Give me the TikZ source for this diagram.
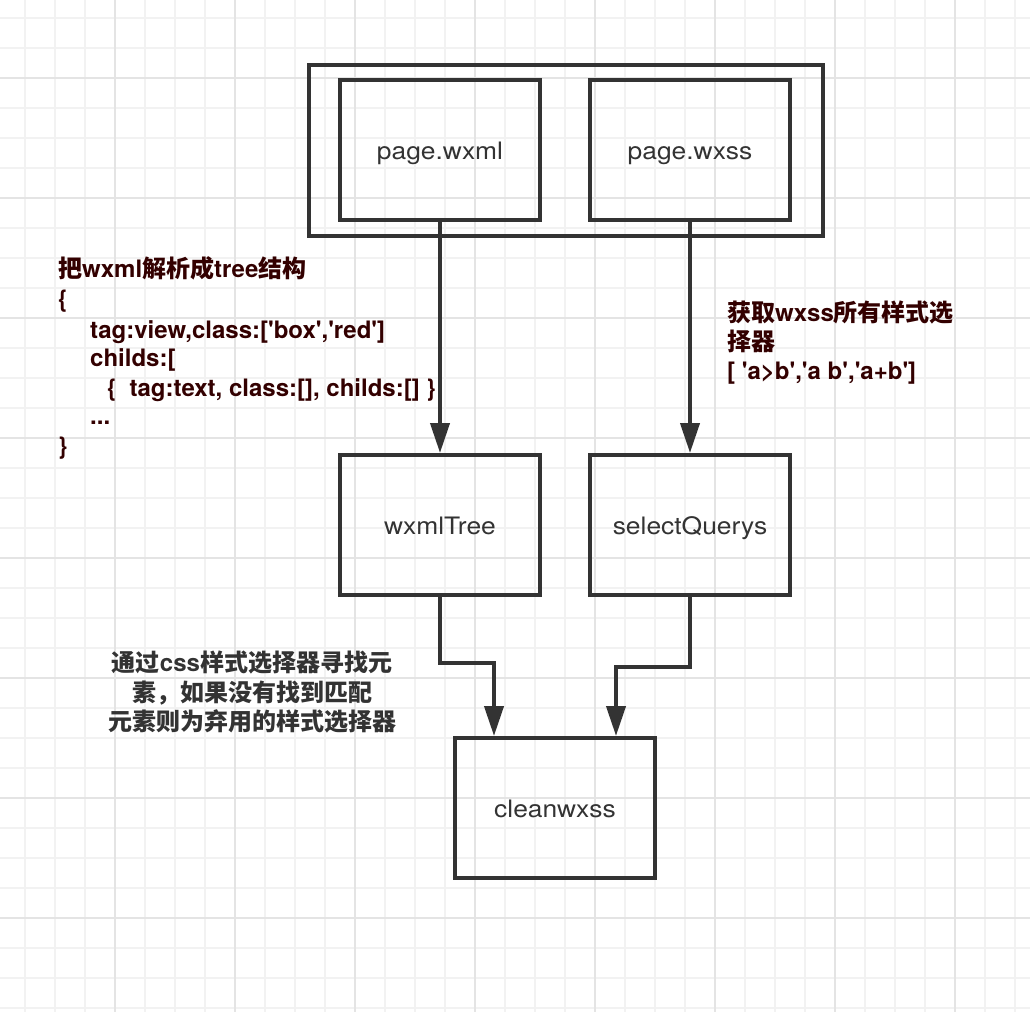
\documentclass[tikz,border=0pt]{standalone}
\usepackage{fontspec}
\setmainfont{TeX Gyre Heros}
\newfontfamily\cjk{Noto Sans CJK SC}
\newfontfamily\boxfont{TeX Gyre Heros}[FakeStretch=1.1]
\usetikzlibrary{arrows.meta}
\definecolor{ann}{HTML}{330000}
\definecolor{ink}{HTML}{333333}
\definecolor{gridminor}{HTML}{F2F2F2}
\definecolor{gridmajor}{HTML}{E4E4E4}
\newcommand\aq{\textquotesingle}
\begin{document}
\begin{tikzpicture}[x=1pt,y=-1pt,
  boxnode/.style={draw=ink, line width=4pt, minimum width=200pt, minimum height=140pt,
    inner sep=0pt, text height=18.6pt, text depth=0pt, text=ink, font=\boxfont\fontsize{24}{30}\selectfont},
  arr/.style={draw=ink, line width=4pt, -{Triangle[length=30pt,width=19pt]}},
  annot/.style={inner sep=0pt, anchor=base west, text=ann, font=\fontsize{24}{29}\selectfont\bfseries},
  midannot/.style={inner sep=0pt, anchor=base, text=ink, font=\fontsize{24}{29}\selectfont\bfseries}
]
% background and grid
\fill[white] (0,0) rectangle (1030,1012);
\useasboundingbox (0,0) rectangle (1030,1012);
\foreach \k in {0,...,33} {
  \draw[gridminor, line width=1.5pt] ({25+30*\k},0) -- ({25+30*\k},1012);
  \draw[gridminor, line width=1.5pt] (0,{18+30*\k}) -- (1030,{18+30*\k});
}
\foreach \k in {3,7,...,31} {
  \draw[gridmajor, line width=1.5pt] ({25+30*\k},0) -- ({25+30*\k},1012);
}
\foreach \k in {2,6,...,30} {
  \draw[gridmajor, line width=1.5pt] (0,{18+30*\k}) -- (1030,{18+30*\k});
}

% boxes
\node[draw=ink, line width=4pt, minimum width=514pt, minimum height=171pt, inner sep=0pt] (outer) at (566,150.5) {};
\node[boxnode] (wxml) at (440,150) {page.wxml};
\node[boxnode] (wxss) at (690,150) {page.wxss};
\node[boxnode] (tree) at (440,525) {wxmlTree};
\node[boxnode] (query) at (690,525) {selectQuerys};
\node[boxnode] (clean) at (555,808) {cleanwxss};

% connectors
\coordinate (m1) at (494,663);
\coordinate (m2) at (616,667);
\draw[arr] (wxml.south) -- (tree.north);
\draw[arr] (wxss.south) -- (query.north);
\draw[arr] (tree.south) |- (m1) -- (m1 |- clean.north);
\draw[arr] (query.south) |- (m2) -- (m2 |- clean.north);

% left annotation
\node[annot] (l1) at (58,277) {{\cjk 把}wxml{\cjk 解析成}tree{\cjk 结构}};
\node[annot] (l2) at (58,307) {\{};
\node[annot] (l3) at (90,338) {tag:view,class:[\aq box\aq,\aq red\aq]};
\node[annot] (l4) at (90,366) {childs:[};
\node[annot] (l5) at (107,396) {\{\hspace{13pt}tag:text, class:[], childs:[] \}};
\node[annot] (l6) at (90,424) {...};
\node[annot] (l7) at (58,454) {\}};

% right annotation
\node[annot] (r1) at (727,321) {{\cjk 获取}wxss{\cjk 所有样式选}};
\node[annot] (r2) at (727,350) {{\cjk 择器}};
\node[annot] (r3) at (727,379) {[ \aq a>b\aq,\aq a b\aq,\aq a+b\aq]};

% middle annotation
\node[midannot] (c1) at (252,671) {{\cjk 通过}css{\cjk 样式选择器寻找元}};
\node[midannot] (c2) at (252,701) {{\cjk 素，如果没有找到匹配}};
\node[midannot] (c3) at (252,730) {{\cjk 元素则为弃用的样式选择器}};
\end{tikzpicture}
\end{document}
